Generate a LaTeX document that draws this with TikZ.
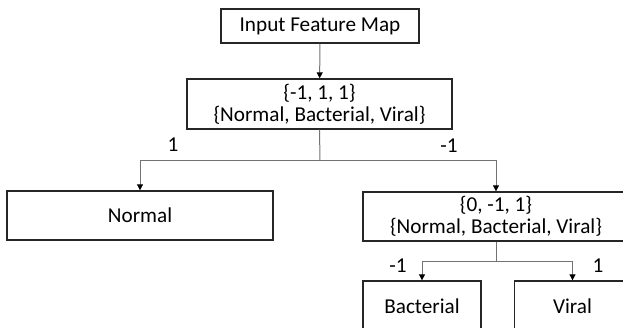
\documentclass[tikz,border=0pt]{standalone}
\usepackage{fontspec}
\setmainfont{Carlito}
\usepackage{tikz}
\usetikzlibrary{arrows.meta,positioning}

\begin{document}
\begin{tikzpicture}[x=1pt,y=-1pt,>={Triangle[length=6pt,width=6pt,color=black]},
                    semithick]
  \tikzstyle{box}=[rectangle,draw=black!85,line width=1.4pt,fill=white,inner sep=0pt,
                   align=center,font=\fontsize{21.2}{22}\selectfont]
  \tikzstyle{wire}=[draw=black!55,line width=1pt]
  \tikzstyle{lbl}=[font=\fontsize{21.2}{22}\selectfont]

  \useasboundingbox (0,0) rectangle (623,327);

  \node[box, minimum width=198pt, minimum height=34pt] (input) at (320,26)   {Input Feature Map};
  \node[box, minimum width=265pt, minimum height=50pt] (root)  at (319.5,104) {\{-1, 1, 1\}\\\{Normal, Bacterial, Viral\}};
  \node[box, minimum width=266pt, minimum height=49pt] (normal) at (140,215.5) {Normal};
  \node[box, minimum width=266pt, minimum height=49pt] (sub)   at (496,216.5) {\{0, -1, 1\}\\\{Normal, Bacterial, Viral\}};
  \node[box, minimum width=118pt, minimum height=50pt] (bact)  at (422,306)   {Bacterial};
  \node[box, minimum width=116pt, minimum height=50pt] (viral) at (572.5,306) {Viral};

  \coordinate (split1) at (320,160.7);
  \coordinate (split2) at (496,261);

  \draw[wire,->] (input) -- (root);
  \draw[wire] (root.south) -- (split1);
  \draw[wire,->] (split1) -| (normal.north);
  \draw[wire,->] (split1) -| (sub.north);
  \draw[wire] (sub.south) -- (split2);
  \draw[wire,->] (split2) -| (bact.north);
  \draw[wire,->] (split2) -| (viral.north);

  \node[lbl] (l1)  at (173,145) {1};
  \node[lbl] (l2)  at (449,146) {-1};
  \node[lbl] (l3)  at (398,266) {-1};
  \node[lbl] (l4)  at (598,266) {1};
\end{tikzpicture}
\end{document}
